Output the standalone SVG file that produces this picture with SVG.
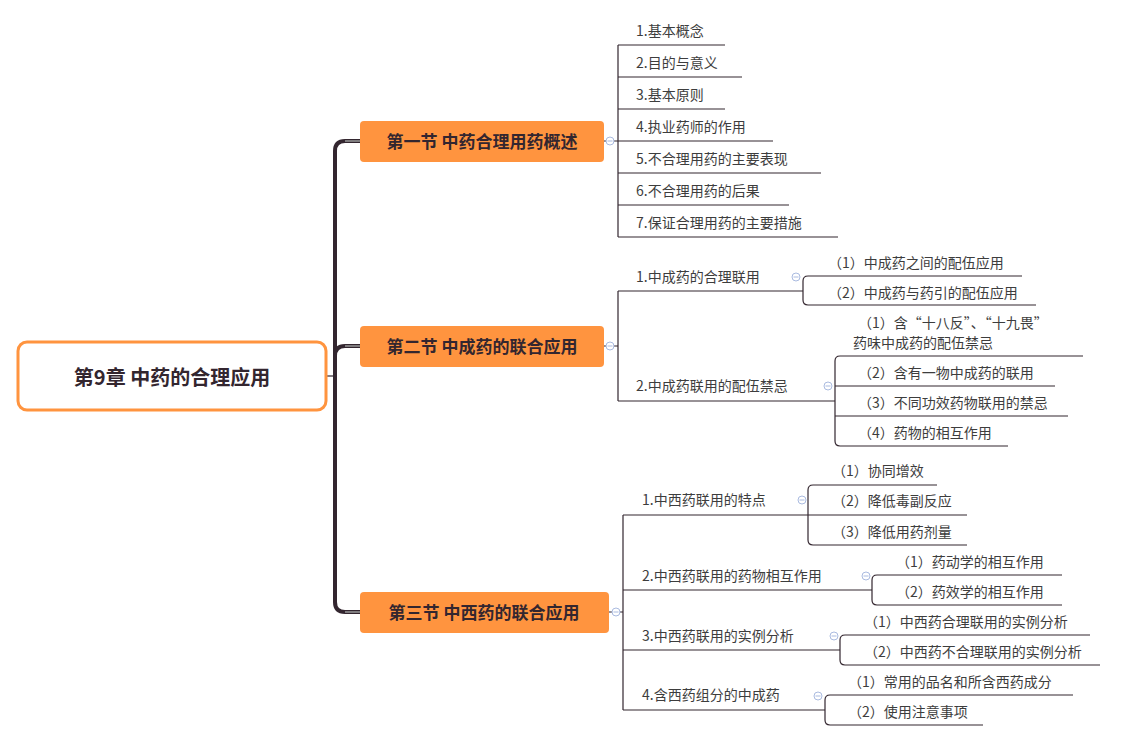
<svg xmlns="http://www.w3.org/2000/svg" width="1121" height="741" viewBox="0 0 1121 741">
<style>
text{font-family:"Noto Sans CJK SC","Liberation Sans",sans-serif;}
.t{font-size:14px;fill:#3d3d3d;}
.s{font-size:17px;font-weight:bold;fill:#33262f;text-anchor:middle;}
.sec{fill:#ff943f;}
.ln{fill:none;stroke:#33262f;stroke-width:1.2;}
.g{fill:none;stroke:#999;stroke-width:1.5;}
.c{fill:#fff;stroke:#aabbe0;stroke-width:1;}
.cl{stroke:#aabbe0;stroke-width:1;}
</style>
<rect width="1121" height="741" fill="#fff"/>
<g id="connectors">
<path class="ln" d="M327 376 H335" stroke-width="1.5"/>
<path d="M360 141 H345 Q335 141 335 151 V602 Q335 612 345 612 H360" fill="none" stroke="#33262f" stroke-width="4"/>
<path d="M335 356 Q335 346 345 346 H360" fill="none" stroke="#33262f" stroke-width="4"/>
<path class="g" d="M345 141 H360 M345 346 H360 M345 612 H360"/>
<!-- section 1 -->
<path class="ln" d="M604 141 H618 M618 45 V237 M618 45 H725 M618 77 H742 M618 109 H725 M618 141 H773 M618 173 H821 M618 205 H789 M618 237 H838"/>
<!-- section 2 -->
<path class="ln" d="M604 346 H618 M618 291 V401 M618 291 H803 M618 401 H835"/>
<path class="ln" d="M1022 276 H808 Q803 276 803 281 V300 Q803 305 808 305 H1036"/>
<path class="ln" d="M1083 356 H840 Q835 356 835 361 V441 Q835 446 840 446 H1008 M835 386 H1055 M835 416 H1068"/>
<!-- section 3 -->
<path class="ln" d="M609 612 H623 M623 515 V710 M623 515 H808 M623 590 H872 M623 650 H840 M623 710 H825"/>
<path class="ln" d="M937 485 H813 Q808 485 808 490 V540 Q808 545 813 545 H967 M808 515 H967"/>
<path class="ln" d="M1062 575 H877 Q872 575 872 580 V600 Q872 605 877 605 H1062"/>
<path class="ln" d="M1090 635 H845 Q840 635 840 640 V660 Q840 665 845 665 H1100"/>
<path class="ln" d="M1073 695 H830 Q825 695 825 700 V720 Q825 725 830 725 H983"/>
<g>
<circle class="c" cx="610" cy="141" r="4"/><path class="cl" d="M607.5 141 H612.5"/>
<circle class="c" cx="610" cy="346" r="4"/><path class="cl" d="M607.5 346 H612.5"/>
<circle class="c" cx="616" cy="612" r="4"/><path class="cl" d="M613.5 612 H618.5"/>
<circle class="c" cx="796" cy="277" r="4"/><path class="cl" d="M793.5 277 H798.5"/>
<circle class="c" cx="828" cy="386" r="4"/><path class="cl" d="M825.5 386 H830.5"/>
<circle class="c" cx="802" cy="500" r="4"/><path class="cl" d="M799.5 500 H804.5"/>
<circle class="c" cx="866" cy="576" r="4"/><path class="cl" d="M863.5 576 H868.5"/>
<circle class="c" cx="834" cy="636" r="4"/><path class="cl" d="M831.5 636 H836.5"/>
<circle class="c" cx="818" cy="696" r="4"/><path class="cl" d="M815.5 696 H820.5"/>
</g>
</g>
<g id="root">
<rect x="18" y="342" width="308" height="68" rx="9" fill="#fff" stroke="#ff943f" stroke-width="3"/>
<text x="172" y="385" font-size="20" font-weight="bold" fill="#33262f" text-anchor="middle">第9章 中药的合理应用</text>
</g>
<g id="sec1"><rect class="sec" x="360" y="121" width="244" height="41" rx="4"/><text class="s" x="482" y="148">第一节 中药合理用药概述</text></g>
<g id="sec2"><rect class="sec" x="360" y="326" width="244" height="41" rx="4"/><text class="s" x="482" y="353">第二节 中成药的联合应用</text></g>
<g id="sec3"><rect class="sec" x="360" y="592" width="249" height="41" rx="4"/><text class="s" x="484" y="619">第三节 中西药的联合应用</text></g>
<g id="s1items" class="t">
<text class="t" x="636" y="36">1.基本概念</text>
<text class="t" x="636" y="68">2.目的与意义</text>
<text class="t" x="636" y="100">3.基本原则</text>
<text class="t" x="636" y="132">4.执业药师的作用</text>
<text class="t" x="636" y="164">5.不合理用药的主要表现</text>
<text class="t" x="636" y="196">6.不合理用药的后果</text>
<text class="t" x="636" y="228">7.保证合理用药的主要措施</text>
</g>
<g id="s2items">
<text class="t" x="636" y="282">1.中成药的合理联用</text>
<text class="t" x="636" y="391">2.中成药联用的配伍禁忌</text>
<text class="t" x="828" y="268">（1）中成药之间的配伍应用</text>
<text class="t" x="828" y="298">（2）中成药与药引的配伍应用</text>
<text class="t" x="858" y="328">（1）含“十八反”、“十九畏”</text>
<text class="t" x="853" y="348">药味中成药的配伍禁忌</text>
<text class="t" x="858" y="378">（2）含有一物中成药的联用</text>
<text class="t" x="858" y="408">（3）不同功效药物联用的禁忌</text>
<text class="t" x="858" y="438">（4）药物的相互作用</text>
</g>
<g id="s3items">
<text class="t" x="642" y="505">1.中西药联用的特点</text>
<text class="t" x="642" y="581">2.中西药联用的药物相互作用</text>
<text class="t" x="642" y="641">3.中西药联用的实例分析</text>
<text class="t" x="642" y="700">4.含西药组分的中成药</text>
<text class="t" x="832" y="476">（1）协同增效</text>
<text class="t" x="832" y="506">（2）降低毒副反应</text>
<text class="t" x="832" y="537">（3）降低用药剂量</text>
<text class="t" x="896" y="567">（1）药动学的相互作用</text>
<text class="t" x="896" y="597">（2）药效学的相互作用</text>
<text class="t" x="864" y="627">（1）中西药合理联用的实例分析</text>
<text class="t" x="864" y="657">（2）中西药不合理联用的实例分析</text>
<text class="t" x="848" y="687">（1）常用的品名和所含西药成分</text>
<text class="t" x="848" y="717">（2）使用注意事项</text>
</g>
</svg>
